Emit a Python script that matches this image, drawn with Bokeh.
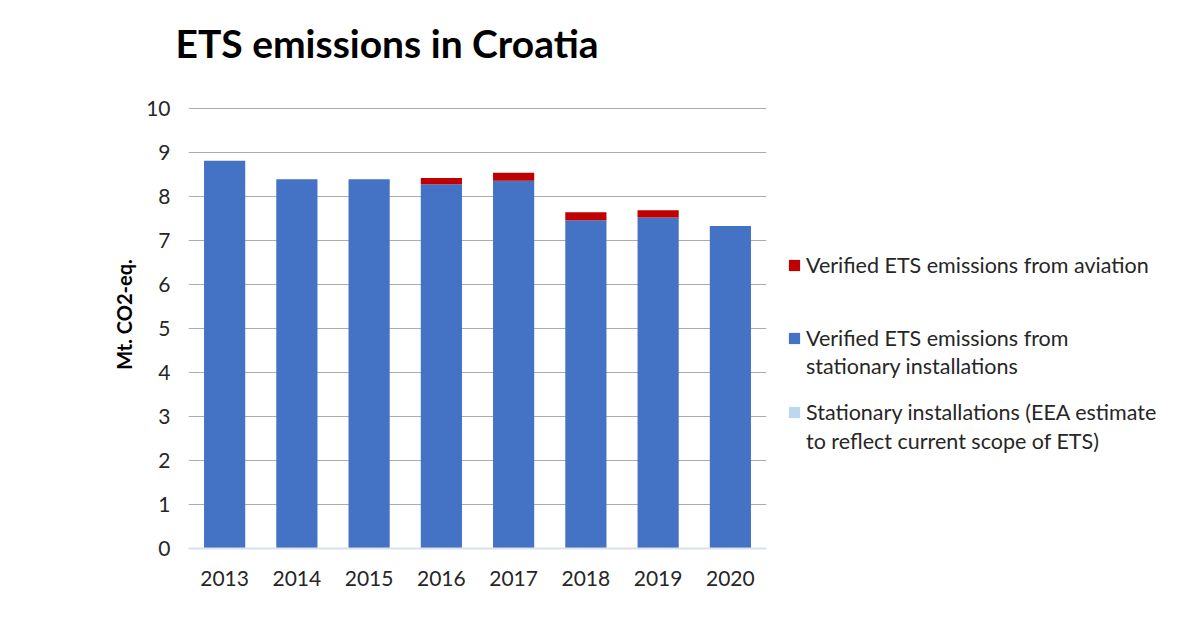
from bokeh.plotting import figure
from bokeh.layouts import row
from bokeh.models import Legend, LegendItem, FactorRange, Range1d, FixedTicker, ColumnDataSource
from bokeh.embed import file_html
from bokeh.resources import INLINE

years = ["2013", "2014", "2015", "2016", "2017", "2018", "2019", "2020"]
stationary = [8.81, 8.39, 8.39, 8.28, 8.36, 7.46, 7.52, 7.33]
aviation = [0.0, 0.0, 0.0, 0.14, 0.18, 0.18, 0.17, 0.0]
estimate = [0.0, 0.0, 0.0, 0.0, 0.0, 0.0, 0.0, 0.0]

legend_lines = [
    ["Verified ETS emissions from aviation"],
    ["Verified ETS emissions from", "stationary installations"],
    ["Stationary installations (EEA estimate", "to reflect current scope of ETS)"],
]
colors = {"aviation": "#C00000", "stationary": "#4472C4", "estimate": "#BDD7EE"}
FONT = "Lato"
TXT = "#262626"

src = ColumnDataSource(dict(year=years, stationary=stationary, aviation=aviation, estimate=estimate))

# frame spans 80..548 px; 44 px per unit so that 10 sits at 108 px
p = figure(width=770, height=613, x_range=FactorRange(factors=years), y_range=Range1d(0, 10.636),
           output_backend="svg", toolbar_location=None,
           min_border_left=188, min_border_right=4, min_border_top=80, min_border_bottom=65,
           title="ETS emissions in Croatia")
p.title.text_font = FONT
p.title.text_font_size = "39px"
p.title.text_font_style = "bold"
p.title.text_color = "#000000"
p.title.align = "left"
p.title.offset = -13
p.title.standoff = 30
p.outline_line_color = None

stack = ["stationary", "aviation", "estimate"]
p.vbar_stack(stack, x="year", width=0.57, color=[colors[k] for k in stack],
             line_color=None, source=src)

p.yaxis.ticker = FixedTicker(ticks=list(range(0, 11)))
p.yaxis.axis_line_color = None
p.yaxis.major_tick_line_color = None
p.yaxis.minor_tick_line_color = None
p.yaxis.major_label_text_font = FONT
p.yaxis.major_label_text_font_size = "21px"
p.yaxis.major_label_text_color = TXT
p.yaxis.major_label_standoff = 12
p.yaxis.axis_label = "Mt. CO2-eq."
p.yaxis.axis_label_text_font = FONT
p.yaxis.axis_label_text_font_size = "20px"
p.yaxis.axis_label_text_font_style = "bold"
p.yaxis.axis_label_text_color = "#000000"
p.yaxis.axis_label_standoff = 7

p.xaxis.axis_line_color = "#D9E1EA"
p.xaxis.axis_line_width = 2
p.xaxis.major_tick_line_color = None
p.xaxis.minor_tick_line_color = None
p.xaxis.major_label_text_font = FONT
p.xaxis.major_label_text_font_size = "21px"
p.xaxis.major_label_text_color = TXT
p.xaxis.major_label_standoff = 16

p.xgrid.grid_line_color = None
p.ygrid.grid_line_color = "#ABABAB"
p.ygrid.grid_line_width = 1

# Legend panel to the right of the chart
p2 = figure(width=410, height=613, x_range=Range1d(0, 410), y_range=Range1d(0, 613),
            x_axis_type=None, y_axis_type=None, output_backend="svg", toolbar_location=None,
            min_border=0)
p2.outline_line_color = None
p2.grid.visible = False

swatches = {}
for key in ["aviation", "stationary", "estimate"]:
    swatches[key] = p2.vbar(x=[-100], top=[0], width=1, fill_color=colors[key], line_color=None)
blank = p2.vbar(x=[-100], top=[0], width=1, fill_alpha=0, line_alpha=0)

line_bottoms = [[270], [197, 169], [123, 94]]
for key, lines, bottoms in zip(["aviation", "stationary", "estimate"], legend_lines, line_bottoms):
    for j, (txt, yb) in enumerate(zip(lines, bottoms)):
        r = swatches[key] if j == 0 else blank
        leg = Legend(items=[LegendItem(label=txt, renderers=[r])], location=(17, yb))
        leg.border_line_color = None
        leg.background_fill_alpha = 0
        leg.padding = 0
        leg.margin = 0
        leg.glyph_width = 14
        leg.glyph_height = 14
        leg.label_standoff = 5
        leg.label_text_font = FONT
        leg.label_text_font_size = "21.5px"
        leg.label_text_color = TXT
        p2.add_layout(leg, "center")

open("out.html", "w").write(file_html(row(p, p2), INLINE))
